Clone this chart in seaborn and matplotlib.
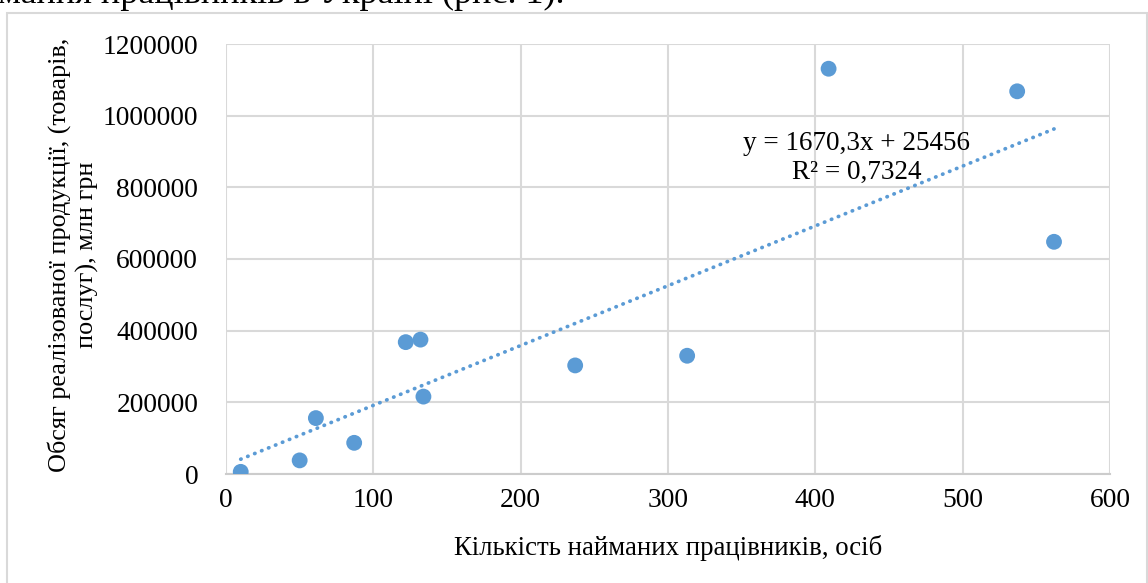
import numpy as np
import pandas as pd
import matplotlib
matplotlib.use("Agg")
import matplotlib.pyplot as plt
from matplotlib.patches import Rectangle
import seaborn as sns

# Data
employees = [10, 50, 61, 87, 122, 132, 134, 237, 313, 409, 537, 562]
sales = [6000, 38000, 156000, 87000, 368000, 375000, 216000, 303000, 330000, 1131000, 1068000, 648000]
x_ticks = [0, 100, 200, 300, 400, 500, 600]
y_ticks = [0, 200000, 400000, 600000, 800000, 1000000, 1200000]
x_label = "Кількість найманих працівників, осіб"
y_label = "Обсяг реалізованої продукції, (товарів,\nпослуг), млн грн"
equation_text = "y = 1670,3x + 25456\nR² = 0,7324"
top_text = "мання працівників в Україні (рис. 1)."

df = pd.DataFrame({"x": employees, "y": sales})

sns.set_theme(style="white")
plt.rcParams["font.family"] = ["Liberation Serif", "DejaVu Serif"]

W, H, DPI = 1148, 583, 100
fig = plt.figure(figsize=(W / DPI, H / DPI), dpi=DPI)
ax = fig.add_axes([226 / W, 1 - 474 / H, (1110 - 226) / W, (474 - 44) / H])

blue = "#5b9bd5"
grid = "#d9d9d9"

sns.regplot(data=df, x="x", y="y", ax=ax, ci=None, scatter=False, truncate=True,
            line_kws=dict(color=blue, lw=2.7, linestyle=(0, (0.1, 1.9)),
                          dash_capstyle="round", zorder=2))
sns.scatterplot(data=df, x="x", y="y", ax=ax, color=blue, s=130, edgecolor="none",
                zorder=3, legend=False)

ax.set_xlim(0, 600)
ax.set_ylim(0, 1200000)
ax.set_xticks(x_ticks)
ax.set_yticks(y_ticks)
ax.set_xticklabels([str(v) for v in x_ticks])
ax.set_yticklabels([str(v) for v in y_ticks])
ax.tick_params(axis="both", length=0, labelsize=19.8, colors="black")
ax.tick_params(axis="y", pad=20)
ax.tick_params(axis="x", pad=10)
ax.grid(True, color=grid, lw=1.5)
ax.set_axisbelow(True)
for s in ["top", "right", "left"]:
    ax.spines[s].set_visible(False)
ax.spines["bottom"].set_color("#cccccc")
ax.spines["bottom"].set_linewidth(1.5)

ax.set_xlabel(x_label, fontsize=19.3, color="black")
ax.set_ylabel(y_label, fontsize=18.8, color="black", linespacing=1.3)
ax.xaxis.set_label_coords(0.5, -0.172)
ax.yaxis.set_label_coords(-0.173, 0.51)
ax.yaxis.label.set_verticalalignment("center")
ax.xaxis.label.set_verticalalignment("center")

ax.text(428, 882000, equation_text, ha="center", va="center", fontsize=19.5,
        multialignment="center", linespacing=1.25, color="black")

# outer chart border and clipped document text above
fig.patches.append(Rectangle((7 / W, -0.1), (1147 - 7) / W, 1.1 - 13 / H,
                             transform=fig.transFigure, fill=False,
                             edgecolor=grid, lw=1.5))
fig.text(-2 / W, 1 - 3 / H, top_text, fontsize=26, ha="left", va="baseline", color="black")

fig.savefig("out.png", dpi=DPI)
